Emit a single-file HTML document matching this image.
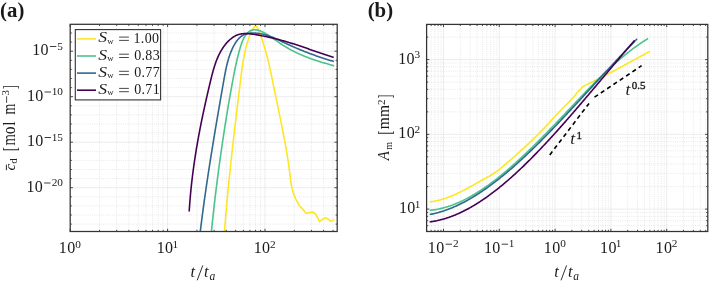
<!DOCTYPE html><html><head><meta charset="utf-8"><style>html,body{margin:0;padding:0;background:#fff;width:709px;height:281px;overflow:hidden}svg{display:block;will-change:transform}</style></head><body><svg width="709" height="281" viewBox="0 0 709 281">
<style>.gmin{stroke:#d2d2d2;stroke-width:0.55;stroke-dasharray:0.9 1.3;fill:none}.gmaj{stroke:#e4e4e4;stroke-width:0.7;fill:none}.tick{stroke:#333333;stroke-width:0.9;fill:none}.box{stroke:#333333;stroke-width:1.25;fill:none}text{font-family:"Liberation Serif", serif;fill:#1a1a1a}.tl{font-size:15.5px}.ts{font-size:11px}.c{fill:none;stroke-width:1.6;stroke-linejoin:round;stroke-linecap:butt}</style>
<rect width="709" height="281" fill="#fff"/>
<line x1="99.52" y1="24.3" x2="99.52" y2="231.5" class="gmin"/>
<line x1="116.67" y1="24.3" x2="116.67" y2="231.5" class="gmin"/>
<line x1="128.84" y1="24.3" x2="128.84" y2="231.5" class="gmin"/>
<line x1="138.28" y1="24.3" x2="138.28" y2="231.5" class="gmin"/>
<line x1="145.99" y1="24.3" x2="145.99" y2="231.5" class="gmin"/>
<line x1="152.51" y1="24.3" x2="152.51" y2="231.5" class="gmin"/>
<line x1="158.16" y1="24.3" x2="158.16" y2="231.5" class="gmin"/>
<line x1="163.14" y1="24.3" x2="163.14" y2="231.5" class="gmin"/>
<line x1="196.92" y1="24.3" x2="196.92" y2="231.5" class="gmin"/>
<line x1="214.07" y1="24.3" x2="214.07" y2="231.5" class="gmin"/>
<line x1="226.24" y1="24.3" x2="226.24" y2="231.5" class="gmin"/>
<line x1="235.68" y1="24.3" x2="235.68" y2="231.5" class="gmin"/>
<line x1="243.39" y1="24.3" x2="243.39" y2="231.5" class="gmin"/>
<line x1="249.91" y1="24.3" x2="249.91" y2="231.5" class="gmin"/>
<line x1="255.56" y1="24.3" x2="255.56" y2="231.5" class="gmin"/>
<line x1="260.54" y1="24.3" x2="260.54" y2="231.5" class="gmin"/>
<line x1="294.32" y1="24.3" x2="294.32" y2="231.5" class="gmin"/>
<line x1="311.47" y1="24.3" x2="311.47" y2="231.5" class="gmin"/>
<line x1="323.64" y1="24.3" x2="323.64" y2="231.5" class="gmin"/>
<line x1="333.08" y1="24.3" x2="333.08" y2="231.5" class="gmin"/>
<line x1="70.2" y1="224.1" x2="337.2" y2="224.1" class="gmin"/>
<line x1="70.2" y1="215" x2="337.2" y2="215" class="gmin"/>
<line x1="70.2" y1="205.9" x2="337.2" y2="205.9" class="gmin"/>
<line x1="70.2" y1="196.8" x2="337.2" y2="196.8" class="gmin"/>
<line x1="70.2" y1="178.6" x2="337.2" y2="178.6" class="gmin"/>
<line x1="70.2" y1="169.5" x2="337.2" y2="169.5" class="gmin"/>
<line x1="70.2" y1="160.4" x2="337.2" y2="160.4" class="gmin"/>
<line x1="70.2" y1="151.3" x2="337.2" y2="151.3" class="gmin"/>
<line x1="70.2" y1="133.1" x2="337.2" y2="133.1" class="gmin"/>
<line x1="70.2" y1="124" x2="337.2" y2="124" class="gmin"/>
<line x1="70.2" y1="114.9" x2="337.2" y2="114.9" class="gmin"/>
<line x1="70.2" y1="105.8" x2="337.2" y2="105.8" class="gmin"/>
<line x1="70.2" y1="87.6" x2="337.2" y2="87.6" class="gmin"/>
<line x1="70.2" y1="78.5" x2="337.2" y2="78.5" class="gmin"/>
<line x1="70.2" y1="69.4" x2="337.2" y2="69.4" class="gmin"/>
<line x1="70.2" y1="60.3" x2="337.2" y2="60.3" class="gmin"/>
<line x1="70.2" y1="42.1" x2="337.2" y2="42.1" class="gmin"/>
<line x1="70.2" y1="33" x2="337.2" y2="33" class="gmin"/>
<line x1="167.6" y1="24.3" x2="167.6" y2="231.5" class="gmaj"/>
<line x1="265" y1="24.3" x2="265" y2="231.5" class="gmaj"/>
<line x1="70.2" y1="187.7" x2="337.2" y2="187.7" class="gmaj"/>
<line x1="70.2" y1="142.2" x2="337.2" y2="142.2" class="gmaj"/>
<line x1="70.2" y1="96.7" x2="337.2" y2="96.7" class="gmaj"/>
<line x1="70.2" y1="51.2" x2="337.2" y2="51.2" class="gmaj"/>
<defs><clipPath id="ca"><rect x="70.2" y="24.3" width="267" height="207.2"/></clipPath><clipPath id="cb"><rect x="426.6" y="24.4" width="281.2" height="207.1"/></clipPath></defs>
<g clip-path="url(#ca)">
<path d="M224.49 231.34 L224.55 230.55 L224.61 229.76 L224.67 228.97 L224.73 228.18 L224.79 227.39 L224.85 226.60 L224.92 225.81 L224.98 225.02 L225.04 224.23 L225.10 223.44 L225.17 222.65 L225.23 221.85 L225.29 221.06 L225.36 220.27 L225.42 219.48 L225.49 218.69 L225.55 217.90 L225.62 217.10 L225.69 216.31 L225.75 215.52 L225.82 214.72 L225.89 213.93 L225.95 213.14 L226.02 212.35 L226.09 211.55 L226.16 210.76 L226.23 209.96 L226.30 209.17 L226.37 208.38 L226.44 207.58 L226.51 206.79 L226.58 205.99 L226.65 205.20 L226.72 204.41 L226.79 203.61 L226.86 202.82 L226.94 202.02 L227.01 201.23 L227.08 200.43 L227.15 199.63 L227.23 198.84 L227.30 198.04 L227.38 197.25 L227.45 196.45 L227.53 195.66 L227.60 194.86 L227.68 194.06 L227.75 193.27 L227.83 192.47 L227.90 191.68 L227.98 190.88 L228.06 190.08 L228.14 189.29 L228.21 188.49 L228.29 187.69 L228.37 186.90 L228.45 186.10 L228.53 185.30 L228.61 184.51 L228.68 183.71 L228.76 182.91 L228.84 182.11 L228.92 181.32 L229.00 180.52 L229.08 179.72 L229.17 178.93 L229.25 178.13 L229.33 177.33 L229.41 176.53 L229.49 175.74 L229.57 174.94 L229.66 174.14 L229.74 173.34 L229.82 172.55 L229.90 171.75 L229.99 170.95 L230.07 170.15 L230.16 169.36 L230.24 168.56 L230.32 167.76 L230.41 166.96 L230.49 166.17 L230.58 165.37 L230.66 164.57 L230.75 163.77 L230.83 162.98 L230.92 162.18 L231.01 161.38 L231.09 160.58 L231.18 159.79 L231.27 158.99 L231.35 158.19 L231.44 157.39 L231.53 156.60 L231.61 155.80 L231.70 155.00 L231.79 154.20 L231.88 153.41 L231.97 152.61 L232.05 151.81 L232.14 151.02 L232.23 150.22 L232.32 149.42 L232.41 148.63 L232.50 147.83 L232.59 147.03 L232.68 146.24 L232.77 145.44 L232.86 144.64 L232.95 143.85 L233.04 143.05 L233.13 142.25 L233.22 141.46 L233.31 140.66 L233.40 139.87 L233.49 139.07 L233.58 138.27 L233.67 137.48 L233.77 136.68 L233.86 135.89 L233.95 135.09 L234.04 134.30 L234.13 133.50 L234.23 132.71 L234.32 131.91 L234.41 131.12 L234.50 130.32 L234.59 129.53 L234.69 128.73 L234.78 127.94 L234.87 127.15 L234.97 126.35 L235.06 125.56 L235.15 124.76 L235.25 123.97 L235.34 123.18 L235.43 122.38 L235.53 121.59 L235.62 120.80 L235.72 120.01 L235.81 119.21 L235.90 118.42 L236.00 117.63 L236.09 116.84 L236.19 116.04 L236.28 115.25 L236.38 114.46 L236.47 113.67 L236.56 112.88 L236.66 112.09 L236.75 111.30 L236.85 110.51 L236.94 109.72 L237.04 108.93 L237.13 108.14 L237.23 107.35 L237.32 106.56 L237.42 105.77 L237.51 104.98 L237.61 104.19 L237.71 103.40 L237.80 102.61 L237.90 101.82 L237.99 101.03 L238.09 100.25 L238.18 99.46 L238.28 98.67 L238.37 97.88 L238.47 97.10 L238.57 96.31 L238.66 95.52 L238.76 94.74 L238.85 93.95 L238.95 93.17 L239.04 92.38 L239.14 91.60 L239.24 90.81 L239.33 90.03 L239.43 89.24 L239.52 88.46 L239.62 87.67 L239.71 86.89 L239.81 86.11 L239.91 85.32 L240.00 84.54 L240.10 83.76 L240.19 82.98 L240.29 82.20 L240.39 81.41 L240.48 80.63 L240.58 79.85 L240.67 79.07 L240.77 78.29 L240.86 77.51 L240.96 76.73 L241.06 75.95 L241.16 75.17 L241.25 74.39 L241.35 73.61 L241.45 72.83 L241.56 72.05 L241.66 71.27 L241.76 70.49 L241.87 69.71 L241.98 68.93 L242.09 68.15 L242.20 67.36 L242.31 66.58 L242.43 65.80 L242.55 65.01 L242.67 64.23 L242.79 63.44 L242.92 62.66 L243.04 61.87 L243.18 61.08 L243.31 60.30 L243.45 59.51 L243.59 58.72 L243.74 57.92 L243.89 57.13 L244.04 56.34 L244.20 55.54 L244.36 54.75 L244.52 53.95 L244.69 53.15 L244.87 52.35 L245.05 51.55 L245.23 50.75 L245.42 49.94 L245.61 49.14 L245.81 48.33 L246.01 47.52 L246.22 46.71 L246.44 45.90 L246.66 45.08 L246.88 44.27 L247.12 43.45 L247.35 42.63 L247.60 41.81 L247.85 40.98 L248.10 40.16 L248.37 39.35 L248.64 38.53 L248.92 37.73 L249.20 36.93 L249.49 36.14 L249.79 35.36 L250.09 34.59 L250.41 33.84 L250.72 33.11 L251.05 32.39 L251.39 31.69 L251.73 31.01 L252.08 30.35 L252.44 29.72 L252.81 29.11 L253.18 28.52 L253.57 27.97 L253.96 27.45 L254.35 26.99 L254.75 26.61 L255.15 26.35 L255.54 26.25 L255.92 26.30 L256.30 26.50 L256.67 26.83 L257.04 27.27 L257.39 27.82 L257.74 28.45 L258.09 29.14 L258.42 29.90 L258.76 30.69 L259.08 31.50 L259.40 32.32 L259.71 33.14 L260.02 33.95 L260.33 34.76 L260.62 35.56 L260.92 36.36 L261.20 37.16 L261.49 37.96 L261.77 38.75 L262.04 39.54 L262.31 40.33 L262.58 41.12 L262.84 41.90 L263.10 42.69 L263.35 43.47 L263.60 44.26 L263.85 45.04 L264.09 45.82 L264.33 46.61 L264.57 47.39 L264.80 48.17 L265.03 48.95 L265.25 49.73 L265.48 50.51 L265.70 51.29 L265.91 52.07 L266.13 52.85 L266.34 53.63 L266.55 54.41 L266.76 55.18 L266.96 55.96 L267.16 56.74 L267.36 57.51 L267.55 58.29 L267.75 59.07 L267.94 59.84 L268.13 60.62 L268.32 61.39 L268.50 62.17 L268.68 62.94 L268.87 63.72 L269.04 64.49 L269.22 65.27 L269.40 66.04 L269.57 66.82 L269.75 67.59 L269.92 68.36 L270.09 69.14 L270.26 69.91 L270.42 70.69 L270.59 71.46 L270.75 72.23 L270.92 73.01 L271.08 73.78 L271.24 74.56 L271.40 75.33 L271.57 76.11 L271.73 76.88 L271.88 77.65 L272.04 78.43 L272.20 79.20 L272.36 79.98 L272.52 80.76 L272.67 81.53 L272.83 82.31 L272.99 83.08 L273.15 83.86 L273.30 84.64 L273.46 85.41 L273.62 86.19 L273.78 86.97 L273.93 87.75 L274.09 88.53 L274.25 89.30 L274.41 90.08 L274.57 90.86 L274.73 91.64 L274.89 92.42 L275.05 93.21 L275.21 93.99 L275.37 94.77 L275.54 95.55 L275.70 96.33 L275.86 97.12 L276.02 97.90 L276.19 98.68 L276.35 99.46 L276.51 100.25 L276.67 101.03 L276.84 101.82 L277.00 102.60 L277.16 103.39 L277.33 104.17 L277.49 104.96 L277.65 105.74 L277.82 106.53 L277.98 107.32 L278.14 108.10 L278.31 108.89 L278.47 109.68 L278.63 110.46 L278.80 111.25 L278.96 112.04 L279.12 112.83 L279.29 113.61 L279.45 114.40 L279.61 115.19 L279.77 115.98 L279.94 116.77 L280.10 117.56 L280.26 118.35 L280.42 119.13 L280.58 119.92 L280.74 120.71 L280.90 121.50 L281.06 122.29 L281.22 123.08 L281.38 123.87 L281.54 124.66 L281.70 125.45 L281.86 126.24 L282.01 127.03 L282.17 127.82 L282.33 128.61 L282.48 129.40 L282.64 130.20 L282.79 130.99 L282.95 131.78 L283.10 132.57 L283.26 133.36 L283.41 134.15 L283.56 134.94 L283.71 135.73 L283.86 136.52 L284.01 137.31 L284.16 138.10 L284.31 138.89 L284.46 139.68 L284.61 140.48 L284.75 141.27 L284.90 142.06 L285.04 142.85 L285.19 143.64 L285.33 144.43 L285.47 145.22 L285.61 146.01 L285.75 146.80 L285.89 147.59 L286.03 148.38 L286.17 149.17 L286.30 149.96 L286.44 150.75 L286.57 151.54 L286.71 152.33 L286.84 153.12 L286.97 153.91 L287.10 154.70 L287.23 155.49 L287.36 156.28 L287.48 157.06 L287.61 157.85 L287.73 158.64 L287.86 159.43 L287.98 160.22 L288.10 161.01 L288.22 161.79 L288.34 162.58 L288.46 163.37 L288.57 164.16 L288.69 164.94 L288.80 165.73 L288.91 166.52 L289.02 167.30 L289.13 168.09 L289.24 168.87 L289.34 169.66 L289.45 170.44 L289.55 171.23 L289.65 172.01 L289.75 172.80 L289.85 173.58 L289.95 174.37 L290.04 175.15 L290.14 175.93 L290.23 176.71 L290.33 177.50 L290.42 178.28 L290.52 179.06 L290.62 179.84 L290.73 180.62 L290.84 181.40 L290.95 182.18 L291.07 182.96 L291.19 183.74 L291.32 184.52 L291.46 185.30 L291.61 186.08 L291.76 186.86 L291.92 187.64 L292.10 188.41 L292.28 189.19 L292.47 189.97 L292.68 190.74 L292.90 191.52 L293.13 192.29 L293.38 193.07 L293.64 193.84 L293.92 194.62 L294.21 195.39 L294.52 196.16 L294.84 196.93 L295.18 197.71 L295.55 198.48 L295.93 199.25 L296.33 200.02 L296.44 200.23 L296.80 200.70 L299.70 206.40 L301.90 208.10 L305.90 213.20 L309.30 212.60 L313.30 212.10 L316.20 214.90 L319.60 221.70 L323.00 218.90 L325.80 217.80 L328.70 219.50 L330.40 221.20 L334.40 220.00" class="c" stroke="#fde725"/>
<path d="M211.44 231.31 L211.52 230.52 L211.60 229.74 L211.68 228.95 L211.76 228.17 L211.84 227.38 L211.92 226.60 L212.00 225.81 L212.08 225.02 L212.16 224.24 L212.24 223.45 L212.33 222.66 L212.41 221.88 L212.49 221.09 L212.58 220.30 L212.66 219.51 L212.74 218.72 L212.83 217.94 L212.91 217.15 L213.00 216.36 L213.09 215.57 L213.17 214.78 L213.26 213.99 L213.34 213.20 L213.43 212.41 L213.52 211.62 L213.61 210.83 L213.70 210.04 L213.78 209.25 L213.87 208.46 L213.96 207.67 L214.05 206.88 L214.14 206.08 L214.23 205.29 L214.32 204.50 L214.41 203.71 L214.51 202.92 L214.60 202.13 L214.69 201.33 L214.78 200.54 L214.87 199.75 L214.97 198.96 L215.06 198.16 L215.16 197.37 L215.25 196.58 L215.34 195.78 L215.44 194.99 L215.53 194.20 L215.63 193.40 L215.73 192.61 L215.82 191.82 L215.92 191.02 L216.02 190.23 L216.11 189.44 L216.21 188.64 L216.31 187.85 L216.41 187.05 L216.51 186.26 L216.61 185.46 L216.70 184.67 L216.80 183.88 L216.90 183.08 L217.01 182.29 L217.11 181.49 L217.21 180.70 L217.31 179.90 L217.41 179.11 L217.51 178.31 L217.62 177.52 L217.72 176.72 L217.82 175.93 L217.92 175.13 L218.03 174.34 L218.13 173.54 L218.24 172.75 L218.34 171.95 L218.45 171.16 L218.55 170.36 L218.66 169.57 L218.77 168.77 L218.87 167.98 L218.98 167.18 L219.09 166.39 L219.19 165.59 L219.30 164.80 L219.41 164.00 L219.52 163.21 L219.63 162.41 L219.74 161.62 L219.85 160.82 L219.96 160.03 L220.07 159.23 L220.18 158.44 L220.29 157.64 L220.40 156.85 L220.51 156.06 L220.62 155.26 L220.74 154.47 L220.85 153.67 L220.96 152.88 L221.08 152.08 L221.19 151.29 L221.30 150.50 L221.42 149.70 L221.53 148.91 L221.65 148.11 L221.76 147.32 L221.88 146.53 L222.00 145.73 L222.11 144.94 L222.23 144.15 L222.35 143.35 L222.46 142.56 L222.58 141.77 L222.70 140.98 L222.82 140.18 L222.94 139.39 L223.05 138.60 L223.17 137.81 L223.29 137.01 L223.41 136.22 L223.53 135.43 L223.65 134.64 L223.78 133.85 L223.90 133.06 L224.02 132.26 L224.14 131.47 L224.26 130.68 L224.38 129.89 L224.51 129.10 L224.63 128.31 L224.75 127.52 L224.88 126.73 L225.00 125.94 L225.13 125.15 L225.25 124.36 L225.38 123.57 L225.50 122.79 L225.63 122.00 L225.75 121.21 L225.88 120.42 L226.01 119.63 L226.14 118.84 L226.26 118.06 L226.39 117.27 L226.52 116.48 L226.65 115.70 L226.78 114.91 L226.90 114.12 L227.03 113.34 L227.16 112.55 L227.29 111.77 L227.42 110.98 L227.55 110.20 L227.69 109.41 L227.82 108.63 L227.95 107.84 L228.08 107.06 L228.21 106.28 L228.34 105.49 L228.48 104.71 L228.61 103.93 L228.74 103.14 L228.88 102.36 L229.01 101.58 L229.15 100.80 L229.28 100.02 L229.42 99.24 L229.55 98.46 L229.69 97.68 L229.82 96.90 L229.96 96.12 L230.10 95.34 L230.23 94.56 L230.37 93.78 L230.51 93.00 L230.65 92.22 L230.78 91.45 L230.92 90.67 L231.06 89.89 L231.20 89.12 L231.34 88.34 L231.48 87.56 L231.62 86.79 L231.76 86.01 L231.90 85.24 L232.04 84.47 L232.18 83.69 L232.32 82.92 L232.47 82.15 L232.61 81.37 L232.75 80.60 L232.89 79.83 L233.04 79.06 L233.18 78.29 L233.33 77.51 L233.47 76.74 L233.62 75.97 L233.77 75.20 L233.92 74.43 L234.07 73.65 L234.22 72.88 L234.37 72.11 L234.52 71.33 L234.68 70.56 L234.84 69.78 L235.00 69.00 L235.16 68.23 L235.32 67.45 L235.49 66.67 L235.65 65.89 L235.82 65.11 L235.99 64.33 L236.17 63.54 L236.34 62.76 L236.52 61.97 L236.70 61.18 L236.89 60.39 L237.08 59.60 L237.27 58.80 L237.46 58.01 L237.65 57.21 L237.85 56.41 L238.06 55.61 L238.26 54.81 L238.47 54.00 L238.68 53.19 L238.90 52.38 L239.12 51.57 L239.34 50.75 L239.57 49.93 L239.80 49.11 L240.04 48.29 L240.28 47.47 L240.53 46.65 L240.78 45.83 L241.05 45.01 L241.32 44.20 L241.60 43.39 L241.89 42.60 L242.19 41.81 L242.50 41.03 L242.82 40.27 L243.16 39.52 L243.51 38.78 L243.87 38.06 L244.25 37.35 L244.65 36.67 L245.06 36.00 L245.49 35.36 L245.94 34.74 L246.41 34.14 L246.90 33.57 L247.40 33.03 L247.93 32.52 L248.47 32.04 L249.03 31.61 L249.61 31.21 L250.20 30.86 L250.81 30.56 L251.43 30.31 L252.07 30.11 L252.73 29.95 L253.39 29.84 L254.06 29.78 L254.75 29.77 L255.44 29.80 L256.14 29.87 L256.84 29.98 L257.55 30.14 L258.26 30.33 L258.98 30.54 L259.69 30.79 L260.41 31.06 L261.12 31.35 L261.84 31.66 L262.55 31.99 L263.26 32.33 L263.97 32.70 L264.68 33.08 L265.39 33.47 L266.09 33.88 L266.80 34.30 L267.51 34.73 L268.21 35.17 L268.91 35.63 L269.62 36.09 L270.32 36.56 L271.02 37.03 L271.72 37.51 L272.42 38.00 L273.12 38.49 L273.82 38.98 L274.52 39.47 L275.22 39.96 L275.91 40.45 L276.61 40.94 L277.30 41.43 L278.00 41.92 L278.69 42.39 L279.39 42.87 L280.08 43.33 L280.77 43.79 L281.46 44.25 L282.15 44.69 L282.84 45.13 L283.54 45.57 L284.23 46.00 L284.92 46.42 L285.61 46.84 L286.30 47.25 L286.99 47.65 L287.68 48.05 L288.37 48.45 L289.06 48.83 L289.75 49.22 L290.44 49.59 L291.13 49.97 L291.83 50.34 L292.52 50.70 L293.21 51.06 L293.91 51.41 L294.61 51.76 L295.30 52.10 L296.00 52.44 L296.70 52.77 L297.40 53.11 L298.10 53.43 L298.80 53.75 L299.50 54.07 L300.21 54.39 L300.92 54.70 L301.62 55.00 L302.33 55.30 L303.04 55.60 L303.76 55.90 L304.47 56.19 L305.19 56.48 L305.91 56.76 L306.63 57.05 L307.35 57.33 L308.08 57.60 L308.80 57.88 L309.53 58.15 L310.27 58.41 L311.00 58.68 L311.74 58.94 L312.48 59.20 L313.22 59.46 L313.96 59.72 L314.71 59.97 L315.46 60.22 L316.21 60.47 L316.97 60.72 L317.73 60.97 L318.49 61.21 L319.26 61.45 L320.03 61.69 L320.80 61.93 L321.57 62.17 L322.35 62.41 L323.14 62.65 L323.92 62.88 L324.71 63.12 L325.51 63.35 L326.30 63.58 L327.11 63.81 L327.91 64.04 L328.72 64.28 L329.53 64.51 L330.35 64.74 L331.17 64.97 L332.00 65.19 L332.83 65.42 L333.67 65.65 L334.13 65.78" class="c" stroke="#4cc38a"/>
<path d="M200.29 231.49 L200.38 230.69 L200.48 229.89 L200.58 229.09 L200.68 228.29 L200.78 227.49 L200.88 226.69 L200.98 225.89 L201.08 225.09 L201.18 224.29 L201.28 223.49 L201.38 222.69 L201.48 221.90 L201.58 221.10 L201.68 220.30 L201.79 219.50 L201.89 218.71 L201.99 217.91 L202.09 217.11 L202.20 216.32 L202.30 215.52 L202.41 214.72 L202.51 213.93 L202.62 213.13 L202.72 212.34 L202.83 211.54 L202.93 210.75 L203.04 209.95 L203.15 209.16 L203.25 208.36 L203.36 207.57 L203.47 206.78 L203.58 205.98 L203.69 205.19 L203.80 204.40 L203.90 203.60 L204.01 202.81 L204.12 202.02 L204.23 201.22 L204.34 200.43 L204.45 199.64 L204.57 198.85 L204.68 198.06 L204.79 197.26 L204.90 196.47 L205.01 195.68 L205.12 194.89 L205.24 194.10 L205.35 193.31 L205.46 192.52 L205.58 191.73 L205.69 190.94 L205.81 190.15 L205.92 189.36 L206.03 188.57 L206.15 187.78 L206.26 186.99 L206.38 186.20 L206.50 185.41 L206.61 184.62 L206.73 183.83 L206.85 183.04 L206.96 182.25 L207.08 181.47 L207.20 180.68 L207.32 179.89 L207.43 179.10 L207.55 178.31 L207.67 177.52 L207.79 176.74 L207.91 175.95 L208.03 175.16 L208.15 174.37 L208.27 173.58 L208.39 172.80 L208.51 172.01 L208.63 171.22 L208.75 170.43 L208.87 169.65 L208.99 168.86 L209.11 168.07 L209.24 167.29 L209.36 166.50 L209.48 165.71 L209.60 164.93 L209.73 164.14 L209.85 163.35 L209.97 162.57 L210.10 161.78 L210.22 160.99 L210.34 160.21 L210.47 159.42 L210.59 158.63 L210.72 157.85 L210.84 157.06 L210.97 156.28 L211.09 155.49 L211.22 154.70 L211.34 153.92 L211.47 153.13 L211.60 152.35 L211.72 151.56 L211.85 150.77 L211.97 149.99 L212.10 149.20 L212.23 148.42 L212.36 147.63 L212.48 146.84 L212.61 146.06 L212.74 145.27 L212.87 144.49 L213.00 143.70 L213.13 142.91 L213.25 142.13 L213.38 141.34 L213.51 140.56 L213.64 139.77 L213.77 138.98 L213.90 138.20 L214.03 137.41 L214.16 136.63 L214.29 135.84 L214.42 135.05 L214.55 134.27 L214.68 133.48 L214.81 132.70 L214.95 131.91 L215.08 131.12 L215.21 130.34 L215.34 129.55 L215.47 128.77 L215.60 127.98 L215.74 127.19 L215.87 126.41 L216.00 125.62 L216.13 124.83 L216.27 124.05 L216.40 123.26 L216.53 122.47 L216.67 121.68 L216.80 120.90 L216.93 120.11 L217.07 119.32 L217.20 118.54 L217.33 117.75 L217.47 116.96 L217.60 116.17 L217.74 115.39 L217.87 114.60 L218.01 113.81 L218.14 113.02 L218.28 112.23 L218.41 111.45 L218.55 110.66 L218.68 109.87 L218.82 109.08 L218.95 108.29 L219.09 107.50 L219.23 106.72 L219.36 105.93 L219.50 105.14 L219.63 104.35 L219.77 103.56 L219.91 102.77 L220.04 101.98 L220.18 101.19 L220.32 100.40 L220.45 99.61 L220.59 98.82 L220.73 98.03 L220.86 97.24 L221.00 96.45 L221.14 95.66 L221.28 94.87 L221.41 94.08 L221.55 93.28 L221.69 92.49 L221.83 91.70 L221.97 90.91 L222.10 90.12 L222.24 89.32 L222.38 88.53 L222.52 87.74 L222.66 86.95 L222.80 86.15 L222.93 85.36 L223.07 84.57 L223.21 83.77 L223.35 82.98 L223.49 82.19 L223.63 81.39 L223.77 80.60 L223.91 79.80 L224.05 79.01 L224.19 78.22 L224.33 77.42 L224.47 76.63 L224.62 75.83 L224.77 75.04 L224.91 74.25 L225.06 73.46 L225.22 72.67 L225.37 71.88 L225.53 71.09 L225.69 70.30 L225.86 69.51 L226.02 68.72 L226.19 67.94 L226.37 67.15 L226.55 66.37 L226.73 65.59 L226.92 64.81 L227.11 64.03 L227.31 63.25 L227.51 62.47 L227.72 61.70 L227.93 60.93 L228.15 60.16 L228.37 59.39 L228.60 58.63 L228.84 57.86 L229.08 57.10 L229.33 56.34 L229.59 55.59 L229.85 54.83 L230.12 54.08 L230.40 53.33 L230.69 52.58 L230.98 51.84 L231.28 51.10 L231.59 50.36 L231.91 49.63 L232.24 48.90 L232.58 48.17 L232.92 47.45 L233.28 46.73 L233.65 46.02 L234.02 45.31 L234.41 44.62 L234.81 43.93 L235.22 43.25 L235.64 42.59 L236.07 41.94 L236.52 41.31 L236.98 40.69 L237.45 40.08 L237.93 39.50 L238.43 38.93 L238.94 38.39 L239.47 37.86 L240.01 37.36 L240.57 36.88 L241.14 36.42 L241.73 35.99 L242.33 35.59 L242.95 35.21 L243.59 34.87 L244.25 34.55 L244.92 34.27 L245.61 34.01 L246.32 33.79 L247.04 33.60 L247.77 33.43 L248.53 33.30 L249.29 33.19 L250.06 33.10 L250.85 33.04 L251.64 33.00 L252.45 32.98 L253.26 32.99 L254.08 33.01 L254.90 33.05 L255.73 33.11 L256.56 33.18 L257.39 33.27 L258.22 33.37 L259.06 33.49 L259.89 33.62 L260.73 33.76 L261.56 33.92 L262.38 34.09 L263.20 34.28 L264.02 34.47 L264.83 34.68 L265.63 34.90 L266.43 35.13 L267.21 35.37 L267.99 35.62 L268.77 35.88 L269.53 36.15 L270.30 36.43 L271.05 36.71 L271.80 37.00 L272.55 37.30 L273.29 37.61 L274.02 37.92 L274.76 38.23 L275.49 38.55 L276.21 38.88 L276.94 39.21 L277.66 39.54 L278.38 39.87 L279.09 40.21 L279.81 40.55 L280.52 40.89 L281.24 41.23 L281.95 41.58 L282.66 41.92 L283.38 42.26 L284.09 42.60 L284.80 42.94 L285.52 43.27 L286.24 43.61 L286.95 43.94 L287.67 44.28 L288.39 44.61 L289.11 44.93 L289.83 45.26 L290.55 45.59 L291.28 45.91 L292.00 46.23 L292.72 46.55 L293.45 46.87 L294.18 47.19 L294.90 47.50 L295.63 47.82 L296.36 48.13 L297.09 48.44 L297.82 48.75 L298.55 49.05 L299.29 49.36 L300.02 49.66 L300.76 49.96 L301.49 50.26 L302.23 50.56 L302.97 50.86 L303.71 51.15 L304.45 51.45 L305.19 51.74 L305.93 52.03 L306.67 52.32 L307.42 52.60 L308.16 52.89 L308.91 53.17 L309.65 53.45 L310.40 53.73 L311.15 54.01 L311.90 54.28 L312.65 54.56 L313.40 54.83 L314.15 55.10 L314.91 55.37 L315.66 55.64 L316.42 55.90 L317.17 56.17 L317.93 56.43 L318.69 56.69 L319.45 56.95 L320.21 57.21 L320.97 57.46 L321.73 57.71 L322.49 57.97 L323.26 58.22 L324.02 58.46 L324.79 58.71 L325.56 58.96 L326.33 59.20 L327.10 59.44 L327.87 59.68 L328.64 59.92 L329.41 60.15 L330.18 60.39 L330.96 60.62 L331.73 60.85 L332.51 61.08 L333.29 61.30 L333.89 61.48" class="c" stroke="#31688e"/>
<path d="M189.18 211.56 L189.23 210.75 L189.28 209.93 L189.33 209.12 L189.39 208.30 L189.44 207.49 L189.50 206.68 L189.56 205.86 L189.62 205.05 L189.68 204.24 L189.74 203.43 L189.80 202.62 L189.86 201.81 L189.93 201.00 L189.99 200.20 L190.06 199.39 L190.13 198.58 L190.19 197.78 L190.26 196.97 L190.34 196.17 L190.41 195.36 L190.48 194.56 L190.55 193.76 L190.63 192.96 L190.71 192.15 L190.78 191.35 L190.86 190.55 L190.94 189.75 L191.02 188.95 L191.10 188.15 L191.19 187.36 L191.27 186.56 L191.35 185.76 L191.44 184.96 L191.53 184.17 L191.61 183.37 L191.70 182.58 L191.79 181.78 L191.88 180.99 L191.98 180.19 L192.07 179.40 L192.16 178.60 L192.26 177.81 L192.35 177.02 L192.45 176.23 L192.55 175.44 L192.65 174.64 L192.75 173.85 L192.85 173.06 L192.95 172.27 L193.05 171.48 L193.16 170.69 L193.26 169.91 L193.37 169.12 L193.47 168.33 L193.58 167.54 L193.69 166.75 L193.80 165.97 L193.91 165.18 L194.02 164.39 L194.13 163.61 L194.25 162.82 L194.36 162.04 L194.48 161.25 L194.59 160.47 L194.71 159.68 L194.83 158.90 L194.95 158.11 L195.07 157.33 L195.19 156.54 L195.31 155.76 L195.43 154.98 L195.55 154.19 L195.68 153.41 L195.80 152.63 L195.93 151.85 L196.06 151.06 L196.18 150.28 L196.31 149.50 L196.44 148.72 L196.57 147.94 L196.70 147.16 L196.84 146.37 L196.97 145.59 L197.10 144.81 L197.24 144.03 L197.37 143.25 L197.51 142.47 L197.65 141.69 L197.79 140.91 L197.92 140.13 L198.06 139.35 L198.20 138.57 L198.35 137.79 L198.49 137.01 L198.63 136.23 L198.77 135.45 L198.92 134.67 L199.06 133.89 L199.21 133.11 L199.36 132.33 L199.51 131.55 L199.65 130.77 L199.80 129.99 L199.95 129.21 L200.10 128.43 L200.26 127.65 L200.41 126.87 L200.56 126.09 L200.71 125.31 L200.87 124.53 L201.02 123.75 L201.18 122.97 L201.34 122.20 L201.50 121.42 L201.65 120.64 L201.81 119.86 L201.97 119.07 L202.13 118.29 L202.29 117.51 L202.46 116.73 L202.62 115.95 L202.78 115.17 L202.95 114.39 L203.11 113.61 L203.28 112.83 L203.44 112.05 L203.61 111.27 L203.78 110.49 L203.95 109.70 L204.12 108.92 L204.29 108.14 L204.46 107.36 L204.63 106.57 L204.80 105.79 L204.97 105.01 L205.14 104.23 L205.32 103.44 L205.49 102.66 L205.67 101.87 L205.84 101.09 L206.02 100.31 L206.20 99.52 L206.37 98.74 L206.55 97.95 L206.73 97.17 L206.91 96.38 L207.09 95.59 L207.27 94.81 L207.45 94.02 L207.63 93.23 L207.82 92.45 L208.00 91.66 L208.18 90.87 L208.37 90.08 L208.55 89.29 L208.74 88.51 L208.92 87.72 L209.11 86.93 L209.30 86.14 L209.49 85.35 L209.67 84.55 L209.86 83.76 L210.05 82.97 L210.24 82.18 L210.43 81.39 L210.62 80.59 L210.82 79.80 L211.01 79.01 L211.20 78.22 L211.40 77.42 L211.60 76.63 L211.80 75.84 L212.00 75.05 L212.21 74.26 L212.41 73.47 L212.62 72.68 L212.84 71.89 L213.05 71.11 L213.27 70.32 L213.50 69.54 L213.73 68.76 L213.96 67.98 L214.20 67.20 L214.44 66.43 L214.68 65.66 L214.94 64.89 L215.19 64.12 L215.46 63.36 L215.73 62.60 L216.00 61.84 L216.28 61.08 L216.57 60.33 L216.86 59.58 L217.16 58.84 L217.47 58.10 L217.79 57.36 L218.11 56.63 L218.44 55.90 L218.78 55.18 L219.13 54.46 L219.48 53.75 L219.85 53.04 L220.22 52.33 L220.60 51.63 L221.00 50.94 L221.40 50.25 L221.81 49.57 L222.23 48.89 L222.66 48.22 L223.11 47.55 L223.56 46.90 L224.02 46.24 L224.49 45.60 L224.98 44.96 L225.47 44.34 L225.98 43.72 L226.49 43.12 L227.01 42.53 L227.55 41.95 L228.09 41.38 L228.64 40.83 L229.20 40.29 L229.78 39.77 L230.36 39.26 L230.94 38.77 L231.54 38.30 L232.15 37.85 L232.76 37.42 L233.39 37.00 L234.02 36.61 L234.66 36.24 L235.31 35.90 L235.97 35.57 L236.63 35.27 L237.30 35.00 L237.98 34.75 L238.67 34.53 L239.37 34.33 L240.07 34.16 L240.78 34.01 L241.49 33.89 L242.22 33.79 L242.95 33.71 L243.68 33.65 L244.42 33.61 L245.17 33.59 L245.92 33.59 L246.68 33.60 L247.44 33.63 L248.21 33.68 L248.98 33.74 L249.76 33.81 L250.54 33.89 L251.33 33.98 L252.11 34.09 L252.91 34.20 L253.70 34.32 L254.50 34.45 L255.30 34.58 L256.11 34.72 L256.91 34.86 L257.72 35.00 L258.53 35.15 L259.34 35.30 L260.16 35.45 L260.97 35.61 L261.79 35.76 L262.60 35.92 L263.42 36.08 L264.24 36.24 L265.05 36.41 L265.87 36.58 L266.69 36.75 L267.51 36.92 L268.32 37.10 L269.14 37.27 L269.95 37.45 L270.77 37.63 L271.58 37.82 L272.39 38.01 L273.19 38.19 L274.00 38.39 L274.80 38.58 L275.60 38.78 L276.40 38.98 L277.19 39.18 L277.99 39.38 L278.78 39.59 L279.56 39.79 L280.35 40.00 L281.13 40.22 L281.91 40.43 L282.69 40.65 L283.47 40.87 L284.24 41.09 L285.02 41.31 L285.79 41.53 L286.56 41.76 L287.33 41.98 L288.09 42.21 L288.86 42.44 L289.62 42.68 L290.38 42.91 L291.14 43.15 L291.90 43.38 L292.66 43.62 L293.41 43.86 L294.17 44.10 L294.92 44.34 L295.67 44.59 L296.42 44.83 L297.17 45.08 L297.92 45.33 L298.67 45.57 L299.42 45.82 L300.17 46.07 L300.91 46.32 L301.66 46.57 L302.41 46.83 L303.15 47.08 L303.90 47.33 L304.64 47.59 L305.38 47.84 L306.13 48.10 L306.87 48.36 L307.61 48.61 L308.36 48.87 L309.10 49.13 L309.84 49.39 L310.59 49.64 L311.33 49.90 L312.08 50.16 L312.82 50.42 L313.57 50.68 L314.31 50.94 L315.06 51.20 L315.80 51.46 L316.55 51.72 L317.30 51.97 L318.04 52.23 L318.79 52.49 L319.54 52.75 L320.29 53.01 L321.05 53.26 L321.80 53.52 L322.55 53.78 L323.31 54.04 L324.06 54.29 L324.82 54.55 L325.58 54.80 L326.34 55.05 L327.10 55.31 L327.86 55.56 L328.63 55.81 L329.39 56.06 L330.16 56.31 L330.93 56.56 L331.70 56.81 L332.48 57.05 L333.25 57.30 L333.69 57.44" class="c" stroke="#440154"/>
</g>
<path d="M70.2 231.5v-2.7M70.2 24.3v2.7M167.6 231.5v-2.7M167.6 24.3v2.7M265 231.5v-2.7M265 24.3v2.7M99.52 231.5v-1.6M99.52 24.3v1.6M116.67 231.5v-1.6M116.67 24.3v1.6M128.84 231.5v-1.6M128.84 24.3v1.6M138.28 231.5v-1.6M138.28 24.3v1.6M145.99 231.5v-1.6M145.99 24.3v1.6M152.51 231.5v-1.6M152.51 24.3v1.6M158.16 231.5v-1.6M158.16 24.3v1.6M163.14 231.5v-1.6M163.14 24.3v1.6M196.92 231.5v-1.6M196.92 24.3v1.6M214.07 231.5v-1.6M214.07 24.3v1.6M226.24 231.5v-1.6M226.24 24.3v1.6M235.68 231.5v-1.6M235.68 24.3v1.6M243.39 231.5v-1.6M243.39 24.3v1.6M249.91 231.5v-1.6M249.91 24.3v1.6M255.56 231.5v-1.6M255.56 24.3v1.6M260.54 231.5v-1.6M260.54 24.3v1.6M294.32 231.5v-1.6M294.32 24.3v1.6M311.47 231.5v-1.6M311.47 24.3v1.6M323.64 231.5v-1.6M323.64 24.3v1.6M333.08 231.5v-1.6M333.08 24.3v1.6M70.2 187.7h2.7M337.2 187.7h-2.7M70.2 142.2h2.7M337.2 142.2h-2.7M70.2 96.7h2.7M337.2 96.7h-2.7M70.2 51.2h2.7M337.2 51.2h-2.7M70.2 224.1h1.6M337.2 224.1h-1.6M70.2 215h1.6M337.2 215h-1.6M70.2 205.9h1.6M337.2 205.9h-1.6M70.2 196.8h1.6M337.2 196.8h-1.6M70.2 178.6h1.6M337.2 178.6h-1.6M70.2 169.5h1.6M337.2 169.5h-1.6M70.2 160.4h1.6M337.2 160.4h-1.6M70.2 151.3h1.6M337.2 151.3h-1.6M70.2 133.1h1.6M337.2 133.1h-1.6M70.2 124h1.6M337.2 124h-1.6M70.2 114.9h1.6M337.2 114.9h-1.6M70.2 105.8h1.6M337.2 105.8h-1.6M70.2 87.6h1.6M337.2 87.6h-1.6M70.2 78.5h1.6M337.2 78.5h-1.6M70.2 69.4h1.6M337.2 69.4h-1.6M70.2 60.3h1.6M337.2 60.3h-1.6M70.2 42.1h1.6M337.2 42.1h-1.6M70.2 33h1.6M337.2 33h-1.6" class="tick"/>
<rect x="70.2" y="24.3" width="267" height="207.2" class="box"/>
<rect x="75.3" y="29.6" width="85.3" height="70.3" fill="#fff" stroke="#333333" stroke-width="1.1"/>
<line x1="77" y1="38.9" x2="96" y2="38.9" stroke="#fde725" stroke-width="1.6"/>
<text transform="translate(98.19 42.4) scale(1.17 1)" x="0" y="0" style="font-size:15px;font-style:italic">S</text>
<text transform="translate(107.19 43.6) scale(0.98 1)" x="0" y="0" style="font-size:9px">w</text>
<line x1="119.1" y1="37.1" x2="128.9" y2="37.1" stroke="#1a1a1a" stroke-width="0.8"/>
<line x1="119.1" y1="40.4" x2="128.9" y2="40.4" stroke="#1a1a1a" stroke-width="0.8"/>
<text x="133.57" y="42.6" style="font-size:14px;letter-spacing:0.3px">1.00</text>
<line x1="77" y1="56" x2="96" y2="56" stroke="#4cc38a" stroke-width="1.6"/>
<text transform="translate(98.19 59.5) scale(1.17 1)" x="0" y="0" style="font-size:15px;font-style:italic">S</text>
<text transform="translate(107.19 60.7) scale(0.98 1)" x="0" y="0" style="font-size:9px">w</text>
<line x1="119.1" y1="54.2" x2="128.9" y2="54.2" stroke="#1a1a1a" stroke-width="0.8"/>
<line x1="119.1" y1="57.5" x2="128.9" y2="57.5" stroke="#1a1a1a" stroke-width="0.8"/>
<text x="134.27" y="59.7" style="font-size:14px;letter-spacing:0.3px">0.83</text>
<line x1="77" y1="73.1" x2="96" y2="73.1" stroke="#31688e" stroke-width="1.6"/>
<text transform="translate(98.19 76.6) scale(1.17 1)" x="0" y="0" style="font-size:15px;font-style:italic">S</text>
<text transform="translate(107.19 77.8) scale(0.98 1)" x="0" y="0" style="font-size:9px">w</text>
<line x1="119.1" y1="71.3" x2="128.9" y2="71.3" stroke="#1a1a1a" stroke-width="0.8"/>
<line x1="119.1" y1="74.6" x2="128.9" y2="74.6" stroke="#1a1a1a" stroke-width="0.8"/>
<text x="134.27" y="76.8" style="font-size:14px;letter-spacing:0.3px">0.77</text>
<line x1="77" y1="90.2" x2="96" y2="90.2" stroke="#440154" stroke-width="1.6"/>
<text transform="translate(98.19 93.7) scale(1.17 1)" x="0" y="0" style="font-size:15px;font-style:italic">S</text>
<text transform="translate(107.19 94.9) scale(0.98 1)" x="0" y="0" style="font-size:9px">w</text>
<line x1="119.1" y1="88.4" x2="128.9" y2="88.4" stroke="#1a1a1a" stroke-width="0.8"/>
<line x1="119.1" y1="91.7" x2="128.9" y2="91.7" stroke="#1a1a1a" stroke-width="0.8"/>
<text x="134.27" y="93.9" style="font-size:14px;letter-spacing:0.3px">0.71</text>
<text x="58.83" y="253.2" style="font-size:16px;letter-spacing:0.35px">10</text>
<text x="75.14" y="247.6" style="font-size:11.3px">0</text>
<text x="156.64" y="253.2" style="font-size:16px;letter-spacing:0.35px">10</text>
<text x="172.38" y="247.6" style="font-size:11.3px">1</text>
<text x="253.76" y="253.2" style="font-size:16px;letter-spacing:0.35px">10</text>
<text x="270" y="247.6" style="font-size:11.3px">2</text>
<text x="26.38" y="191.8" style="font-size:16px;letter-spacing:0.35px">10</text>
<line x1="44.13" y1="183" x2="50.53" y2="183" stroke="#1a1a1a" stroke-width="0.85"/>
<text x="51.63" y="186.2" style="font-size:11.3px">20</text>
<text x="26.89" y="146.3" style="font-size:16px;letter-spacing:0.35px">10</text>
<line x1="44.64" y1="137.5" x2="51.04" y2="137.5" stroke="#1a1a1a" stroke-width="0.85"/>
<text x="51.64" y="140.7" style="font-size:11.3px">15</text>
<text x="26.88" y="100.8" style="font-size:16px;letter-spacing:0.35px">10</text>
<line x1="44.62" y1="92" x2="51.02" y2="92" stroke="#1a1a1a" stroke-width="0.85"/>
<text x="51.63" y="95.2" style="font-size:11.3px">10</text>
<text x="32.2" y="55.3" style="font-size:16px;letter-spacing:0.35px">10</text>
<line x1="49.95" y1="46.5" x2="56.35" y2="46.5" stroke="#1a1a1a" stroke-width="0.85"/>
<text x="57.29" y="49.7" style="font-size:11.3px">5</text>
<g transform="translate(0 172) rotate(-90)"><text x="1.42" y="14.6" style="font-size:15.5px;font-style:italic">c</text><line x1="1.8" y1="6.4" x2="7.4" y2="6.4" stroke="#1a1a1a" stroke-width="0.95"/><text x="8.3" y="17.1" style="font-size:11px">d</text><text transform="translate(20.93 16.1) scale(0.65 1)" style="font-size:18.1px">[</text><text transform="translate(26.49 14.6) scale(0.95 1.15)" style="font-size:15.5px">m</text><text transform="translate(37.71 14.6) scale(1 1.15)" style="font-size:15.5px">o</text><text transform="translate(46.19 14.6) scale(1 1.08)" style="font-size:15.5px">l</text><text transform="translate(57.41 14.6) scale(0.9 1.15)" style="font-size:15.5px">m</text><line x1="69.2" y1="6.6" x2="75.7" y2="6.6" stroke="#1a1a1a" stroke-width="0.8"/><text x="76.57" y="9.3" style="font-size:11px">3</text><text transform="translate(82.87 16.1) scale(0.65 1)" style="font-size:18.1px">]</text></g>
<text x="190.48" y="276.8" style="font-size:16.4px;font-style:italic">t</text>
<line x1="197.2" y1="280.3" x2="202.8" y2="265.4" stroke="#1a1a1a" stroke-width="0.9"/>
<text x="204.08" y="276.8" style="font-size:16.4px;font-style:italic">t</text>
<text x="209.56" y="279.9" style="font-size:11.5px;font-style:italic">a</text>
<text transform="translate(0.1 16.7) scale(1.04 1)" style="font-size:20px;font-weight:bold">(a)</text>
<text transform="translate(367.7 16.7) scale(1.04 1)" style="font-size:20px;font-weight:bold">(b)</text>
<line x1="431.12" y1="24.4" x2="431.12" y2="231.5" class="gmin"/>
<line x1="434.86" y1="24.4" x2="434.86" y2="231.5" class="gmin"/>
<line x1="438.09" y1="24.4" x2="438.09" y2="231.5" class="gmin"/>
<line x1="440.95" y1="24.4" x2="440.95" y2="231.5" class="gmin"/>
<line x1="460.3" y1="24.4" x2="460.3" y2="231.5" class="gmin"/>
<line x1="470.12" y1="24.4" x2="470.12" y2="231.5" class="gmin"/>
<line x1="477.09" y1="24.4" x2="477.09" y2="231.5" class="gmin"/>
<line x1="482.5" y1="24.4" x2="482.5" y2="231.5" class="gmin"/>
<line x1="486.92" y1="24.4" x2="486.92" y2="231.5" class="gmin"/>
<line x1="490.66" y1="24.4" x2="490.66" y2="231.5" class="gmin"/>
<line x1="493.89" y1="24.4" x2="493.89" y2="231.5" class="gmin"/>
<line x1="496.75" y1="24.4" x2="496.75" y2="231.5" class="gmin"/>
<line x1="516.1" y1="24.4" x2="516.1" y2="231.5" class="gmin"/>
<line x1="525.92" y1="24.4" x2="525.92" y2="231.5" class="gmin"/>
<line x1="532.89" y1="24.4" x2="532.89" y2="231.5" class="gmin"/>
<line x1="538.3" y1="24.4" x2="538.3" y2="231.5" class="gmin"/>
<line x1="542.72" y1="24.4" x2="542.72" y2="231.5" class="gmin"/>
<line x1="546.46" y1="24.4" x2="546.46" y2="231.5" class="gmin"/>
<line x1="549.69" y1="24.4" x2="549.69" y2="231.5" class="gmin"/>
<line x1="552.55" y1="24.4" x2="552.55" y2="231.5" class="gmin"/>
<line x1="571.9" y1="24.4" x2="571.9" y2="231.5" class="gmin"/>
<line x1="581.72" y1="24.4" x2="581.72" y2="231.5" class="gmin"/>
<line x1="588.69" y1="24.4" x2="588.69" y2="231.5" class="gmin"/>
<line x1="594.1" y1="24.4" x2="594.1" y2="231.5" class="gmin"/>
<line x1="598.52" y1="24.4" x2="598.52" y2="231.5" class="gmin"/>
<line x1="602.26" y1="24.4" x2="602.26" y2="231.5" class="gmin"/>
<line x1="605.49" y1="24.4" x2="605.49" y2="231.5" class="gmin"/>
<line x1="608.35" y1="24.4" x2="608.35" y2="231.5" class="gmin"/>
<line x1="627.7" y1="24.4" x2="627.7" y2="231.5" class="gmin"/>
<line x1="637.52" y1="24.4" x2="637.52" y2="231.5" class="gmin"/>
<line x1="644.49" y1="24.4" x2="644.49" y2="231.5" class="gmin"/>
<line x1="649.9" y1="24.4" x2="649.9" y2="231.5" class="gmin"/>
<line x1="654.32" y1="24.4" x2="654.32" y2="231.5" class="gmin"/>
<line x1="658.06" y1="24.4" x2="658.06" y2="231.5" class="gmin"/>
<line x1="661.29" y1="24.4" x2="661.29" y2="231.5" class="gmin"/>
<line x1="664.15" y1="24.4" x2="664.15" y2="231.5" class="gmin"/>
<line x1="683.5" y1="24.4" x2="683.5" y2="231.5" class="gmin"/>
<line x1="693.32" y1="24.4" x2="693.32" y2="231.5" class="gmin"/>
<line x1="700.29" y1="24.4" x2="700.29" y2="231.5" class="gmin"/>
<line x1="705.7" y1="24.4" x2="705.7" y2="231.5" class="gmin"/>
<line x1="426.6" y1="225.68" x2="707.8" y2="225.68" class="gmin"/>
<line x1="426.6" y1="220.68" x2="707.8" y2="220.68" class="gmin"/>
<line x1="426.6" y1="216.34" x2="707.8" y2="216.34" class="gmin"/>
<line x1="426.6" y1="212.52" x2="707.8" y2="212.52" class="gmin"/>
<line x1="426.6" y1="186.6" x2="707.8" y2="186.6" class="gmin"/>
<line x1="426.6" y1="173.44" x2="707.8" y2="173.44" class="gmin"/>
<line x1="426.6" y1="164.1" x2="707.8" y2="164.1" class="gmin"/>
<line x1="426.6" y1="156.85" x2="707.8" y2="156.85" class="gmin"/>
<line x1="426.6" y1="150.93" x2="707.8" y2="150.93" class="gmin"/>
<line x1="426.6" y1="145.93" x2="707.8" y2="145.93" class="gmin"/>
<line x1="426.6" y1="141.59" x2="707.8" y2="141.59" class="gmin"/>
<line x1="426.6" y1="137.77" x2="707.8" y2="137.77" class="gmin"/>
<line x1="426.6" y1="111.85" x2="707.8" y2="111.85" class="gmin"/>
<line x1="426.6" y1="98.69" x2="707.8" y2="98.69" class="gmin"/>
<line x1="426.6" y1="89.35" x2="707.8" y2="89.35" class="gmin"/>
<line x1="426.6" y1="82.1" x2="707.8" y2="82.1" class="gmin"/>
<line x1="426.6" y1="76.18" x2="707.8" y2="76.18" class="gmin"/>
<line x1="426.6" y1="71.18" x2="707.8" y2="71.18" class="gmin"/>
<line x1="426.6" y1="66.84" x2="707.8" y2="66.84" class="gmin"/>
<line x1="426.6" y1="63.02" x2="707.8" y2="63.02" class="gmin"/>
<line x1="426.6" y1="37.1" x2="707.8" y2="37.1" class="gmin"/>
<line x1="443.5" y1="24.4" x2="443.5" y2="231.5" class="gmaj"/>
<line x1="499.3" y1="24.4" x2="499.3" y2="231.5" class="gmaj"/>
<line x1="555.1" y1="24.4" x2="555.1" y2="231.5" class="gmaj"/>
<line x1="610.9" y1="24.4" x2="610.9" y2="231.5" class="gmaj"/>
<line x1="666.7" y1="24.4" x2="666.7" y2="231.5" class="gmaj"/>
<line x1="426.6" y1="209.1" x2="707.8" y2="209.1" class="gmaj"/>
<line x1="426.6" y1="134.35" x2="707.8" y2="134.35" class="gmaj"/>
<line x1="426.6" y1="59.6" x2="707.8" y2="59.6" class="gmaj"/>
<g clip-path="url(#cb)">
<path d="M429.70 201.95 L430.70 201.83 L431.70 201.69 L432.70 201.54 L433.70 201.37 L434.70 201.19 L435.70 200.99 L436.70 200.77 L437.70 200.54 L438.70 200.30 L439.70 200.04 L440.70 199.77 L441.70 199.48 L442.70 199.18 L443.70 198.87 L444.70 198.55 L445.70 198.21 L446.70 197.86 L447.70 197.50 L448.70 197.12 L449.70 196.74 L450.70 196.35 L451.70 195.94 L452.70 195.52 L453.70 195.10 L454.70 194.66 L455.70 194.22 L456.70 193.76 L457.70 193.30 L458.70 192.82 L459.70 192.34 L460.70 191.85 L461.70 191.36 L462.70 190.85 L463.70 190.34 L464.70 189.82 L465.70 189.30 L466.70 188.77 L467.70 188.23 L468.70 187.69 L469.70 187.14 L470.70 186.59 L471.70 186.03 L472.70 185.47 L473.70 184.90 L474.70 184.33 L475.70 183.76 L476.70 183.18 L477.70 182.60 L478.70 182.02 L479.70 181.44 L480.70 180.87 L481.70 180.30 L482.70 179.73 L483.70 179.18 L484.70 178.63 L485.70 178.09 L486.70 177.55 L487.70 177.00 L488.70 176.46 L489.70 175.90 L490.70 175.32 L491.70 174.73 L492.70 174.11 L493.70 173.46 L494.70 172.78 L495.70 172.08 L496.70 171.35 L497.70 170.61 L498.70 169.84 L499.70 169.05 L500.70 168.25 L501.70 167.43 L502.70 166.61 L503.70 165.77 L504.70 164.92 L505.70 164.07 L506.70 163.21 L507.70 162.34 L508.70 161.48 L509.70 160.61 L510.70 159.74 L511.70 158.87 L512.70 157.99 L513.70 157.11 L514.70 156.23 L515.70 155.35 L516.70 154.46 L517.70 153.57 L518.70 152.67 L519.70 151.77 L520.70 150.86 L521.70 149.96 L522.70 149.04 L523.70 148.12 L524.70 147.20 L525.70 146.27 L526.70 145.34 L527.70 144.40 L528.70 143.46 L529.70 142.51 L530.70 141.56 L531.70 140.60 L532.70 139.64 L533.70 138.66 L534.70 137.69 L535.70 136.70 L536.70 135.71 L537.70 134.71 L538.70 133.71 L539.70 132.70 L540.70 131.68 L541.70 130.66 L542.70 129.63 L543.70 128.59 L544.70 127.54 L545.70 126.48 L546.70 125.42 L547.70 124.35 L548.70 123.27 L549.70 122.18 L550.70 121.09 L551.70 120.00 L552.70 118.91 L553.70 117.81 L554.70 116.72 L555.70 115.63 L556.70 114.54 L557.70 113.46 L558.70 112.39 L559.70 111.33 L560.70 110.28 L561.70 109.24 L562.70 108.21 L563.70 107.20 L564.70 106.20 L565.70 105.21 L566.70 104.21 L567.70 103.21 L568.70 102.21 L569.70 101.18 L570.70 100.14 L571.70 99.07 L572.70 97.97 L573.70 96.84 L574.70 95.66 L575.70 94.42 L576.70 93.12 L577.70 91.89 L578.70 90.96 L579.70 90.24 L580.70 89.12 L581.70 87.91 L582.70 86.92 L583.70 86.18 L584.70 85.62 L585.70 85.12 L586.70 84.63 L587.70 84.15 L588.70 83.67 L589.70 83.19 L590.70 82.71 L591.70 82.23 L592.70 81.75 L593.70 81.26 L594.70 80.77 L595.70 80.28 L596.70 79.78 L597.70 79.28 L598.70 78.78 L599.70 78.28 L600.70 77.77 L601.70 77.26 L602.70 76.75 L603.70 76.24 L604.70 75.72 L605.70 75.20 L606.70 74.68 L607.70 74.16 L608.70 73.63 L609.70 73.11 L610.70 72.58 L611.70 72.05 L612.70 71.52 L613.70 70.99 L614.70 70.45 L615.70 69.92 L616.70 69.38 L617.70 68.84 L618.70 68.30 L619.70 67.76 L620.70 67.22 L621.70 66.68 L622.70 66.13 L623.70 65.59 L624.70 65.04 L625.70 64.50 L626.70 63.95 L627.70 63.41 L628.70 62.86 L629.70 62.31 L630.70 61.77 L631.70 61.22 L632.70 60.67 L633.70 60.12 L634.70 59.58 L635.70 59.03 L636.70 58.49 L637.70 57.94 L638.70 57.39 L639.70 56.85 L640.70 56.31 L641.70 55.76 L642.70 55.22 L643.70 54.68 L644.70 54.14 L645.70 53.60 L646.70 53.06 L647.70 52.52 L648.70 51.99 L649.70 51.45 L649.90 51.35" class="c" stroke="#fde725"/>
<path d="M429.70 210.38 L430.70 210.28 L431.70 210.17 L432.70 210.05 L433.70 209.91 L434.70 209.76 L435.70 209.60 L436.70 209.43 L437.70 209.24 L438.70 209.04 L439.70 208.82 L440.70 208.60 L441.70 208.36 L442.70 208.11 L443.70 207.84 L444.70 207.57 L445.70 207.28 L446.70 206.98 L447.70 206.67 L448.70 206.34 L449.70 206.01 L450.70 205.66 L451.70 205.30 L452.70 204.94 L453.70 204.55 L454.70 204.16 L455.70 203.76 L456.70 203.34 L457.70 202.92 L458.70 202.48 L459.70 202.04 L460.70 201.58 L461.70 201.11 L462.70 200.63 L463.70 200.14 L464.70 199.65 L465.70 199.14 L466.70 198.62 L467.70 198.09 L468.70 197.55 L469.70 197.00 L470.70 196.44 L471.70 195.87 L472.70 195.29 L473.70 194.71 L474.70 194.11 L475.70 193.50 L476.70 192.89 L477.70 192.26 L478.70 191.63 L479.70 190.99 L480.70 190.34 L481.70 189.68 L482.70 189.01 L483.70 188.33 L484.70 187.65 L485.70 186.96 L486.70 186.25 L487.70 185.55 L488.70 184.83 L489.70 184.10 L490.70 183.37 L491.70 182.63 L492.70 181.88 L493.70 181.12 L494.70 180.36 L495.70 179.59 L496.70 178.81 L497.70 178.02 L498.70 177.23 L499.70 176.43 L500.70 175.63 L501.70 174.81 L502.70 173.99 L503.70 173.17 L504.70 172.33 L505.70 171.49 L506.70 170.65 L507.70 169.80 L508.70 168.94 L509.70 168.07 L510.70 167.20 L511.70 166.33 L512.70 165.45 L513.70 164.56 L514.70 163.67 L515.70 162.77 L516.70 161.86 L517.70 160.95 L518.70 160.04 L519.70 159.12 L520.70 158.20 L521.70 157.27 L522.70 156.33 L523.70 155.39 L524.70 154.45 L525.70 153.50 L526.70 152.55 L527.70 151.59 L528.70 150.63 L529.70 149.67 L530.70 148.70 L531.70 147.73 L532.70 146.75 L533.70 145.77 L534.70 144.78 L535.70 143.79 L536.70 142.80 L537.70 141.81 L538.70 140.81 L539.70 139.81 L540.70 138.80 L541.70 137.80 L542.70 136.79 L543.70 135.77 L544.70 134.76 L545.70 133.74 L546.70 132.72 L547.70 131.69 L548.70 130.67 L549.70 129.64 L550.70 128.61 L551.70 127.57 L552.70 126.54 L553.70 125.50 L554.70 124.47 L555.70 123.43 L556.70 122.38 L557.70 121.34 L558.70 120.30 L559.70 119.25 L560.70 118.20 L561.70 117.15 L562.70 116.11 L563.70 115.06 L564.70 114.00 L565.70 112.95 L566.70 111.90 L567.70 110.85 L568.70 109.79 L569.70 108.74 L570.70 107.69 L571.70 106.63 L572.70 105.58 L573.70 104.52 L574.70 103.47 L575.70 102.41 L576.70 101.36 L577.70 100.31 L578.70 99.25 L579.70 98.20 L580.70 97.15 L581.70 96.10 L582.70 95.05 L583.70 94.00 L584.70 92.96 L585.70 91.92 L586.70 90.88 L587.70 89.84 L588.70 88.81 L589.70 87.78 L590.70 86.75 L591.70 85.73 L592.70 84.71 L593.70 83.69 L594.70 82.68 L595.70 81.68 L596.70 80.67 L597.70 79.68 L598.70 78.69 L599.70 77.70 L600.70 76.73 L601.70 75.75 L602.70 74.79 L603.70 73.83 L604.70 72.87 L605.70 71.92 L606.70 70.98 L607.70 70.05 L608.70 69.12 L609.70 68.19 L610.70 67.28 L611.70 66.37 L612.70 65.46 L613.70 64.57 L614.70 63.68 L615.70 62.80 L616.70 61.92 L617.70 61.06 L618.70 60.20 L619.70 59.34 L620.70 58.50 L621.70 57.66 L622.70 56.83 L623.70 56.01 L624.70 55.19 L625.70 54.38 L626.70 53.58 L627.70 52.79 L628.70 52.01 L629.70 51.23 L630.70 50.47 L631.70 49.71 L632.70 48.96 L633.70 48.22 L634.70 47.48 L635.70 46.76 L636.70 46.04 L637.70 45.33 L638.70 44.64 L639.70 43.95 L640.70 43.27 L641.70 42.60 L642.70 41.93 L643.70 41.28 L644.70 40.64 L645.70 40.00 L646.70 39.38 L647.70 38.76 L648.10 38.52" class="c" stroke="#4cc38a"/>
<path d="M429.70 214.49 L430.70 214.31 L431.70 214.11 L432.70 213.90 L433.70 213.68 L434.70 213.45 L435.70 213.21 L436.70 212.95 L437.70 212.69 L438.70 212.42 L439.70 212.13 L440.70 211.84 L441.70 211.53 L442.70 211.21 L443.70 210.89 L444.70 210.55 L445.70 210.20 L446.70 209.85 L447.70 209.48 L448.70 209.10 L449.70 208.72 L450.70 208.32 L451.70 207.91 L452.70 207.50 L453.70 207.07 L454.70 206.63 L455.70 206.19 L456.70 205.74 L457.70 205.27 L458.70 204.80 L459.70 204.32 L460.70 203.83 L461.70 203.32 L462.70 202.82 L463.70 202.30 L464.70 201.77 L465.70 201.23 L466.70 200.69 L467.70 200.14 L468.70 199.57 L469.70 199.00 L470.70 198.42 L471.70 197.84 L472.70 197.24 L473.70 196.64 L474.70 196.03 L475.70 195.41 L476.70 194.78 L477.70 194.14 L478.70 193.50 L479.70 192.85 L480.70 192.19 L481.70 191.52 L482.70 190.84 L483.70 190.16 L484.70 189.47 L485.70 188.77 L486.70 188.07 L487.70 187.36 L488.70 186.64 L489.70 185.91 L490.70 185.18 L491.70 184.44 L492.70 183.69 L493.70 182.94 L494.70 182.18 L495.70 181.41 L496.70 180.64 L497.70 179.86 L498.70 179.07 L499.70 178.28 L500.70 177.48 L501.70 176.67 L502.70 175.86 L503.70 175.04 L504.70 174.21 L505.70 173.38 L506.70 172.55 L507.70 171.70 L508.70 170.86 L509.70 170.00 L510.70 169.14 L511.70 168.28 L512.70 167.41 L513.70 166.53 L514.70 165.65 L515.70 164.76 L516.70 163.87 L517.70 162.97 L518.70 162.07 L519.70 161.16 L520.70 160.25 L521.70 159.33 L522.70 158.41 L523.70 157.48 L524.70 156.55 L525.70 155.62 L526.70 154.68 L527.70 153.73 L528.70 152.78 L529.70 151.83 L530.70 150.87 L531.70 149.91 L532.70 148.94 L533.70 147.97 L534.70 146.99 L535.70 146.02 L536.70 145.03 L537.70 144.05 L538.70 143.06 L539.70 142.06 L540.70 141.07 L541.70 140.07 L542.70 139.06 L543.70 138.05 L544.70 137.04 L545.70 136.03 L546.70 135.01 L547.70 133.99 L548.70 132.97 L549.70 131.94 L550.70 130.91 L551.70 129.88 L552.70 128.85 L553.70 127.81 L554.70 126.77 L555.70 125.73 L556.70 124.68 L557.70 123.63 L558.70 122.58 L559.70 121.53 L560.70 120.48 L561.70 119.42 L562.70 118.36 L563.70 117.30 L564.70 116.24 L565.70 115.18 L566.70 114.11 L567.70 113.04 L568.70 111.97 L569.70 110.90 L570.70 109.83 L571.70 108.76 L572.70 107.68 L573.70 106.61 L574.70 105.53 L575.70 104.45 L576.70 103.37 L577.70 102.29 L578.70 101.21 L579.70 100.13 L580.70 99.04 L581.70 97.96 L582.70 96.88 L583.70 95.79 L584.70 94.70 L585.70 93.62 L586.70 92.53 L587.70 91.44 L588.70 90.36 L589.70 89.27 L590.70 88.18 L591.70 87.10 L592.70 86.01 L593.70 84.92 L594.70 83.83 L595.70 82.75 L596.70 81.66 L597.70 80.57 L598.70 79.49 L599.70 78.40 L600.70 77.32 L601.70 76.24 L602.70 75.15 L603.70 74.07 L604.70 72.99 L605.70 71.91 L606.70 70.83 L607.70 69.75 L608.70 68.67 L609.70 67.60 L610.70 66.52 L611.70 65.45 L612.70 64.38 L613.70 63.31 L614.70 62.24 L615.70 61.17 L616.70 60.10 L617.70 59.04 L618.70 57.98 L619.70 56.92 L620.70 55.86 L621.70 54.80 L622.70 53.75 L623.70 52.70 L624.70 51.65 L625.70 50.60 L626.70 49.56 L627.70 48.52 L628.70 47.48 L629.70 46.44 L630.70 45.40 L631.70 44.37 L632.70 43.34 L633.70 42.32 L634.70 41.29 L635.70 40.27 L636.70 39.26 L637.10 38.85" class="c" stroke="#31688e"/>
<path d="M429.70 221.89 L430.70 221.76 L431.70 221.62 L432.70 221.46 L433.70 221.30 L434.70 221.12 L435.70 220.93 L436.70 220.73 L437.70 220.52 L438.70 220.29 L439.70 220.06 L440.70 219.81 L441.70 219.55 L442.70 219.28 L443.70 218.99 L444.70 218.70 L445.70 218.40 L446.70 218.08 L447.70 217.75 L448.70 217.41 L449.70 217.06 L450.70 216.70 L451.70 216.33 L452.70 215.95 L453.70 215.56 L454.70 215.16 L455.70 214.74 L456.70 214.32 L457.70 213.89 L458.70 213.44 L459.70 212.99 L460.70 212.52 L461.70 212.05 L462.70 211.56 L463.70 211.07 L464.70 210.56 L465.70 210.05 L466.70 209.52 L467.70 208.99 L468.70 208.45 L469.70 207.89 L470.70 207.33 L471.70 206.76 L472.70 206.18 L473.70 205.59 L474.70 204.99 L475.70 204.38 L476.70 203.76 L477.70 203.13 L478.70 202.50 L479.70 201.85 L480.70 201.20 L481.70 200.54 L482.70 199.87 L483.70 199.19 L484.70 198.50 L485.70 197.80 L486.70 197.10 L487.70 196.39 L488.70 195.67 L489.70 194.94 L490.70 194.20 L491.70 193.45 L492.70 192.70 L493.70 191.94 L494.70 191.17 L495.70 190.40 L496.70 189.61 L497.70 188.82 L498.70 188.02 L499.70 187.22 L500.70 186.40 L501.70 185.58 L502.70 184.76 L503.70 183.92 L504.70 183.08 L505.70 182.23 L506.70 181.37 L507.70 180.51 L508.70 179.64 L509.70 178.77 L510.70 177.88 L511.70 176.99 L512.70 176.10 L513.70 175.20 L514.70 174.29 L515.70 173.37 L516.70 172.45 L517.70 171.53 L518.70 170.59 L519.70 169.65 L520.70 168.71 L521.70 167.76 L522.70 166.80 L523.70 165.84 L524.70 164.87 L525.70 163.90 L526.70 162.92 L527.70 161.93 L528.70 160.94 L529.70 159.95 L530.70 158.95 L531.70 157.94 L532.70 156.93 L533.70 155.92 L534.70 154.90 L535.70 153.87 L536.70 152.84 L537.70 151.81 L538.70 150.77 L539.70 149.73 L540.70 148.68 L541.70 147.63 L542.70 146.57 L543.70 145.51 L544.70 144.44 L545.70 143.37 L546.70 142.30 L547.70 141.22 L548.70 140.14 L549.70 139.05 L550.70 137.97 L551.70 136.87 L552.70 135.78 L553.70 134.68 L554.70 133.57 L555.70 132.47 L556.70 131.36 L557.70 130.24 L558.70 129.12 L559.70 128.00 L560.70 126.88 L561.70 125.76 L562.70 124.63 L563.70 123.50 L564.70 122.36 L565.70 121.22 L566.70 120.08 L567.70 118.94 L568.70 117.80 L569.70 116.65 L570.70 115.50 L571.70 114.35 L572.70 113.19 L573.70 112.04 L574.70 110.88 L575.70 109.72 L576.70 108.55 L577.70 107.39 L578.70 106.22 L579.70 105.06 L580.70 103.89 L581.70 102.72 L582.70 101.54 L583.70 100.37 L584.70 99.19 L585.70 98.02 L586.70 96.84 L587.70 95.66 L588.70 94.48 L589.70 93.30 L590.70 92.12 L591.70 90.94 L592.70 89.75 L593.70 88.57 L594.70 87.38 L595.70 86.20 L596.70 85.01 L597.70 83.82 L598.70 82.64 L599.70 81.45 L600.70 80.26 L601.70 79.08 L602.70 77.89 L603.70 76.70 L604.70 75.51 L605.70 74.33 L606.70 73.14 L607.70 71.95 L608.70 70.76 L609.70 69.58 L610.70 68.39 L611.70 67.21 L612.70 66.02 L613.70 64.84 L614.70 63.66 L615.70 62.47 L616.70 61.29 L617.70 60.11 L618.70 58.93 L619.70 57.75 L620.70 56.58 L621.70 55.40 L622.70 54.23 L623.70 53.05 L624.70 51.88 L625.70 50.71 L626.70 49.54 L627.70 48.38 L628.70 47.21 L629.70 46.05 L630.70 44.89 L631.70 43.73 L632.70 42.57 L633.70 41.42 L634.60 40.38" class="c" stroke="#440154"/>
<path d="M549.8 154.9 L589 103.4" fill="none" stroke="#000" stroke-width="1.6" stroke-dasharray="4.2 3.4"/>
<path d="M594.5 97.2 L641.6 65.7" fill="none" stroke="#000" stroke-width="1.6" stroke-dasharray="4.2 3.4"/>
</g>
<path d="M443.5 231.5v-2.7M443.5 24.4v2.7M499.3 231.5v-2.7M499.3 24.4v2.7M555.1 231.5v-2.7M555.1 24.4v2.7M610.9 231.5v-2.7M610.9 24.4v2.7M666.7 231.5v-2.7M666.7 24.4v2.7M426.7 231.5v-1.6M426.7 24.4v1.6M431.12 231.5v-1.6M431.12 24.4v1.6M434.86 231.5v-1.6M434.86 24.4v1.6M438.09 231.5v-1.6M438.09 24.4v1.6M440.95 231.5v-1.6M440.95 24.4v1.6M460.3 231.5v-1.6M460.3 24.4v1.6M470.12 231.5v-1.6M470.12 24.4v1.6M477.09 231.5v-1.6M477.09 24.4v1.6M482.5 231.5v-1.6M482.5 24.4v1.6M486.92 231.5v-1.6M486.92 24.4v1.6M490.66 231.5v-1.6M490.66 24.4v1.6M493.89 231.5v-1.6M493.89 24.4v1.6M496.75 231.5v-1.6M496.75 24.4v1.6M516.1 231.5v-1.6M516.1 24.4v1.6M525.92 231.5v-1.6M525.92 24.4v1.6M532.89 231.5v-1.6M532.89 24.4v1.6M538.3 231.5v-1.6M538.3 24.4v1.6M542.72 231.5v-1.6M542.72 24.4v1.6M546.46 231.5v-1.6M546.46 24.4v1.6M549.69 231.5v-1.6M549.69 24.4v1.6M552.55 231.5v-1.6M552.55 24.4v1.6M571.9 231.5v-1.6M571.9 24.4v1.6M581.72 231.5v-1.6M581.72 24.4v1.6M588.69 231.5v-1.6M588.69 24.4v1.6M594.1 231.5v-1.6M594.1 24.4v1.6M598.52 231.5v-1.6M598.52 24.4v1.6M602.26 231.5v-1.6M602.26 24.4v1.6M605.49 231.5v-1.6M605.49 24.4v1.6M608.35 231.5v-1.6M608.35 24.4v1.6M627.7 231.5v-1.6M627.7 24.4v1.6M637.52 231.5v-1.6M637.52 24.4v1.6M644.49 231.5v-1.6M644.49 24.4v1.6M649.9 231.5v-1.6M649.9 24.4v1.6M654.32 231.5v-1.6M654.32 24.4v1.6M658.06 231.5v-1.6M658.06 24.4v1.6M661.29 231.5v-1.6M661.29 24.4v1.6M664.15 231.5v-1.6M664.15 24.4v1.6M683.5 231.5v-1.6M683.5 24.4v1.6M693.32 231.5v-1.6M693.32 24.4v1.6M700.29 231.5v-1.6M700.29 24.4v1.6M705.7 231.5v-1.6M705.7 24.4v1.6M426.6 209.1h2.7M707.8 209.1h-2.7M426.6 134.35h2.7M707.8 134.35h-2.7M426.6 59.6h2.7M707.8 59.6h-2.7M426.6 225.68h1.6M707.8 225.68h-1.6M426.6 220.68h1.6M707.8 220.68h-1.6M426.6 216.34h1.6M707.8 216.34h-1.6M426.6 212.52h1.6M707.8 212.52h-1.6M426.6 186.6h1.6M707.8 186.6h-1.6M426.6 173.44h1.6M707.8 173.44h-1.6M426.6 164.1h1.6M707.8 164.1h-1.6M426.6 156.85h1.6M707.8 156.85h-1.6M426.6 150.93h1.6M707.8 150.93h-1.6M426.6 145.93h1.6M707.8 145.93h-1.6M426.6 141.59h1.6M707.8 141.59h-1.6M426.6 137.77h1.6M707.8 137.77h-1.6M426.6 111.85h1.6M707.8 111.85h-1.6M426.6 98.69h1.6M707.8 98.69h-1.6M426.6 89.35h1.6M707.8 89.35h-1.6M426.6 82.1h1.6M707.8 82.1h-1.6M426.6 76.18h1.6M707.8 76.18h-1.6M426.6 71.18h1.6M707.8 71.18h-1.6M426.6 66.84h1.6M707.8 66.84h-1.6M426.6 63.02h1.6M707.8 63.02h-1.6M426.6 37.1h1.6M707.8 37.1h-1.6" class="tick"/>
<rect x="426.6" y="24.4" width="281.2" height="207.1" class="box"/>
<text x="427.86" y="253" style="font-size:16px;letter-spacing:0.35px">10</text>
<line x1="445.6" y1="244.2" x2="452" y2="244.2" stroke="#1a1a1a" stroke-width="0.85"/>
<text x="453.1" y="247.4" style="font-size:11.3px">2</text>
<text x="483.94" y="253" style="font-size:16px;letter-spacing:0.35px">10</text>
<line x1="501.68" y1="244.2" x2="508.08" y2="244.2" stroke="#1a1a1a" stroke-width="0.85"/>
<text x="508.68" y="247.4" style="font-size:11.3px">1</text>
<text x="543.83" y="253" style="font-size:16px;letter-spacing:0.35px">10</text>
<text x="560.14" y="247.4" style="font-size:11.3px">0</text>
<text x="600.04" y="253" style="font-size:16px;letter-spacing:0.35px">10</text>
<text x="615.78" y="247.4" style="font-size:11.3px">1</text>
<text x="655.56" y="253" style="font-size:16px;letter-spacing:0.35px">10</text>
<text x="671.8" y="247.4" style="font-size:11.3px">2</text>
<text x="398.88" y="213.2" style="font-size:16px;letter-spacing:0.35px">10</text>
<text x="414.63" y="207.6" style="font-size:11.3px">1</text>
<text x="398.33" y="138.45" style="font-size:16px;letter-spacing:0.35px">10</text>
<text x="414.57" y="132.85" style="font-size:11.3px">2</text>
<text x="398.19" y="63.7" style="font-size:16px;letter-spacing:0.35px">10</text>
<text x="414.39" y="58.1" style="font-size:11.3px">3</text>
<text x="570.23" y="144.3" style="font-size:17.5px;font-style:italic">t</text>
<text x="576.4" y="139" class="ts" style="stroke:#1a1a1a;stroke-width:0.35">1</text>
<text x="625.43" y="95.3" style="font-size:17.5px;font-style:italic">t</text>
<text x="631.8" y="89.3" class="ts" style="stroke:#1a1a1a;stroke-width:0.35">0.5</text>
<g transform="translate(0 161) rotate(-90)"><text transform="translate(0.71 389.4) scale(0.92 1)" style="font-size:16px;font-style:italic">A</text><text transform="translate(11.19 392.1) scale(0.92 1)" style="font-size:11px">m</text><text transform="translate(26.43 390.5) scale(0.65 1)" style="font-size:18.1px">[</text><text transform="translate(31.87 389.2) scale(1 1.12)" style="font-size:15.5px">m</text><text transform="translate(43.97 389.2) scale(1 1.12)" style="font-size:15.5px">m</text><text x="56.12" y="385.3" style="font-size:11px">2</text><text transform="translate(62.57 390.5) scale(0.65 1)" style="font-size:18.1px">]</text></g>
<text x="554.28" y="276.8" style="font-size:16.4px;font-style:italic">t</text>
<line x1="561" y1="280.3" x2="566.6" y2="265.4" stroke="#1a1a1a" stroke-width="0.9"/>
<text x="567.88" y="276.8" style="font-size:16.4px;font-style:italic">t</text>
<text x="573.36" y="279.9" style="font-size:11.5px;font-style:italic">a</text>
</svg></body></html>
